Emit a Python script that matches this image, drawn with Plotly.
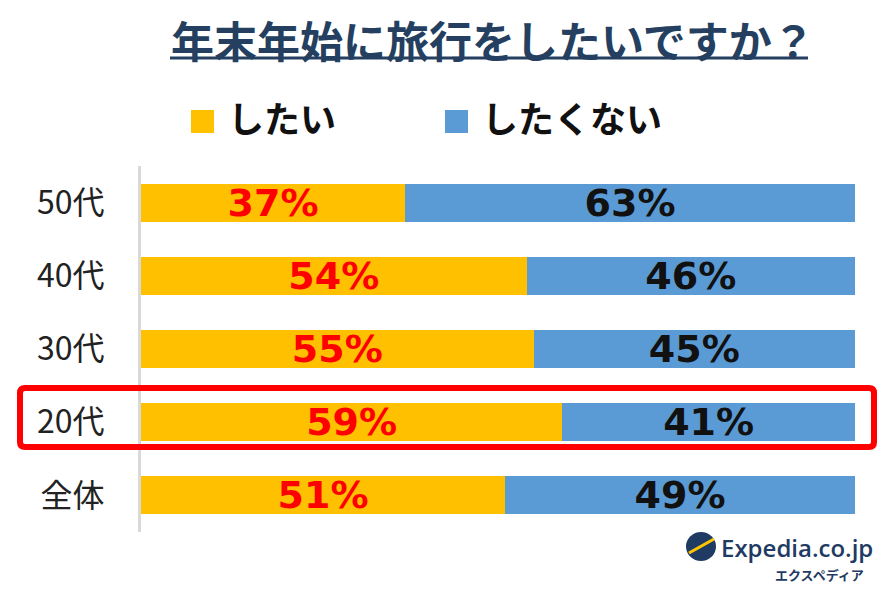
import plotly.graph_objects as go

# survey: 年末年始に旅行をしたいですか？
categories = ['50代', '40代', '30代', '20代', '全体']
want = [37, 54, 55, 59, 51]
not_want = [63, 46, 45, 41, 49]
legend_names = ['したい', 'したくない']

orange = '#FFC000'
blue = '#5B9BD5'
jp_font = 'Noto Sans CJK JP'
num_font = 'DejaVu Sans, Noto Sans CJK JP'

fig = go.Figure()
fig.add_trace(go.Bar(y=categories, x=want, orientation='h', name=legend_names[0],
                     marker=dict(color=orange, line=dict(width=0)),
                     text=[f'{v}%' for v in want], textposition='inside',
                     insidetextanchor='middle',
                     textfont=dict(family=num_font, size=38, color='#FF0000', weight='bold')))
fig.add_trace(go.Bar(y=categories, x=not_want, orientation='h', name=legend_names[1],
                     marker=dict(color=blue, line=dict(width=0)),
                     text=[f'{v}%' for v in not_want], textposition='inside',
                     insidetextanchor='middle',
                     textfont=dict(family=num_font, size=38, color='#111111', weight='bold')))

# page has an 8px body margin, so margins are set 8px short
fig.update_layout(
    width=887, height=601,
    margin=dict(l=133, r=40, t=158, b=77),
    barmode='stack', bargap=0.48,
    showlegend=False,
    plot_bgcolor='white', paper_bgcolor='white',
    uniformtext=dict(minsize=38, mode='show'),
    xaxis=dict(range=[0, 100], visible=False),
    yaxis=dict(autorange='reversed', showline=True, linecolor='#D9D9D9', linewidth=3,
               showgrid=False, ticks='', ticklabelstandoff=27,
               tickfont=dict(family=jp_font, size=32, color='#222222')),
)

# helpers: screen pixel -> paper coords (plot area is 141..855 x 166..532 on screen)
def paper_x(px):
    return (px - 141) / 714

def paper_y(py):
    return (532 - py) / 366

# title with underline
fig.add_annotation(text='<b>年末年始に旅行をしたいですか？</b>', xref='paper', yref='paper',
                   x=0.5, y=1, xanchor='center', yanchor='bottom', showarrow=False,
                   font=dict(family=jp_font, size=43, color='#243F60'),
                   xshift=-5, yshift=94)
fig.add_shape(type='line', xref='paper', yref='paper', x0=paper_x(170), x1=paper_x(808),
              y0=paper_y(58), y1=paper_y(58), line=dict(color='#243F60', width=3))

# legend drawn by hand
for name, col, x0 in [(legend_names[0], orange, 191), (legend_names[1], blue, 445)]:
    fig.add_shape(type='rect', xref='paper', yref='paper',
                  x0=paper_x(x0), x1=paper_x(x0 + 23), y0=paper_y(133), y1=paper_y(110),
                  fillcolor=col, line=dict(width=0))
    fig.add_annotation(text=f'<b>{name}</b>', xref='paper', yref='paper',
                       x=paper_x(x0 + 35), y=paper_y(117), xanchor='left', yanchor='middle',
                       showarrow=False, font=dict(family=jp_font, size=36, color='#111111'))

# highlight box for 20代 (slightly rounded corners)
bx0, bx1, by0, by1, r = paper_x(20), paper_x(874), paper_y(388), paper_y(447), 5
rx, ry = r / 714, r / 366
box_path = (f'M {bx0 + rx},{by0} L {bx1 - rx},{by0} Q {bx1},{by0} {bx1},{by0 - ry} '
            f'L {bx1},{by1 + ry} Q {bx1},{by1} {bx1 - rx},{by1} '
            f'L {bx0 + rx},{by1} Q {bx0},{by1} {bx0},{by1 + ry} '
            f'L {bx0},{by0 - ry} Q {bx0},{by0} {bx0 + rx},{by0} Z')
fig.add_shape(type='path', xref='paper', yref='paper', path=box_path,
              line=dict(color='#FF0000', width=6))

# small mark bottom left
fig.add_shape(type='line', xref='paper', yref='paper', x0=paper_x(0), x1=paper_x(8),
              y0=paper_y(546), y1=paper_y(546), line=dict(color='#CCCCCC', width=1))

# Expedia logo
fig.add_shape(type='circle', xref='paper', yref='paper',
              x0=paper_x(686), x1=paper_x(716), y0=paper_y(561), y1=paper_y(532),
              fillcolor='#1F3B63', line=dict(width=0))
fig.add_shape(type='line', xref='paper', yref='paper',
              x0=paper_x(689), x1=paper_x(714), y0=paper_y(553), y1=paper_y(539),
              line=dict(color='#FFC600', width=3))
fig.add_annotation(text='Expedia.co.jp', xref='paper', yref='paper',
                   x=paper_x(719), y=paper_y(547), xanchor='left', yanchor='middle',
                   showarrow=False, font=dict(family='Open Sans', size=24, color='#1F3B63',
                                              weight=600))
fig.add_annotation(text='<b>エクスペディア</b>', xref='paper', yref='paper',
                   x=paper_x(866), y=paper_y(574), xanchor='right', yanchor='middle',
                   showarrow=False, font=dict(family=jp_font, size=13, color='#1F3B63'))

fig.write_html('out.html')
